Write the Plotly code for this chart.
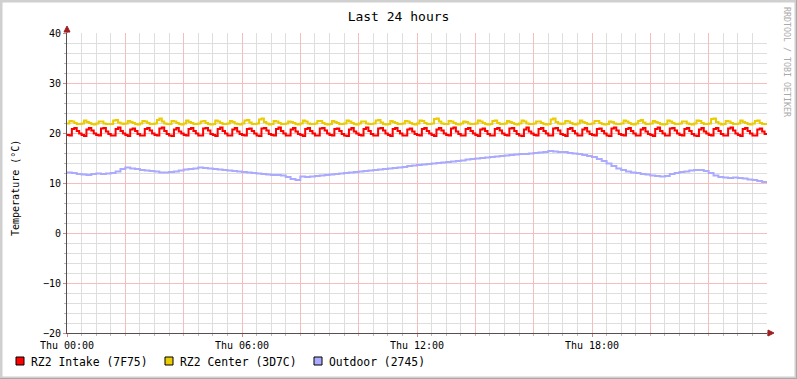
import plotly.graph_objects as go
import pandas as pd

# ---------------- data ----------------
start = pd.Timestamp("2011-06-16 00:00")  # a Thursday

# RZ2 Intake, 5-minute samples (00:00 .. 24:00)
rz2_intake = [
    19.6,19.5,20.8,21.0,20.4,19.9, 19.6,19.4,20.7,21.0,20.5,19.9,
    19.6,19.5,20.9,21.0,20.3,19.8, 19.5,19.5,20.8,21.1,20.4,19.9,
    19.6,19.4,20.7,20.9,20.4,19.8, 19.5,19.5,20.8,21.0,20.5,19.9,
    19.6,19.5,20.9,21.1,20.4,19.8, 19.5,19.4,20.7,21.0,20.3,19.9,
    19.6,19.5,20.8,21.0,20.4,19.9, 19.5,19.5,20.9,21.0,20.5,19.8,
    19.6,19.4,20.8,21.1,20.4,19.9, 19.5,19.5,20.7,21.0,20.3,19.8,
    19.6,19.5,20.8,20.9,20.4,19.9, 19.5,19.4,20.9,21.0,20.5,19.8,
    19.6,19.5,20.8,21.1,20.4,19.9, 19.5,19.5,20.7,21.0,20.3,19.8,
    19.6,19.4,20.8,21.0,20.4,19.9, 19.5,19.5,20.9,21.0,20.5,19.9,
    19.6,19.5,20.8,20.9,20.4,19.8, 19.5,19.4,20.7,21.0,20.3,19.9,
    19.6,19.5,20.8,21.1,20.4,19.8, 19.5,19.5,20.9,21.0,20.5,19.9,
    19.6,19.4,20.8,21.0,20.4,19.9, 19.5,19.5,20.7,20.9,20.3,19.8,
    19.6,19.5,20.8,21.0,20.4,19.9, 19.6,19.4,20.7,21.0,20.5,19.9,
    19.6,19.5,20.9,21.1,20.3,19.8, 19.5,19.5,20.8,21.0,20.4,19.9,
    19.6,19.4,20.7,20.9,20.4,19.8, 19.5,19.5,20.8,21.0,20.5,19.9,
    19.6,19.5,20.9,21.0,20.4,19.8, 19.5,19.4,20.7,21.1,20.3,19.9,
    19.6,19.5,20.8,21.0,20.4,19.9, 19.5,19.5,20.9,21.0,20.5,19.8,
    19.6,19.4,20.8,21.0,20.4,19.9, 19.5,19.5,20.7,21.0,20.3,19.8,
    19.6,19.5,20.8,20.9,20.4,19.9, 19.5,19.4,20.9,21.1,20.5,19.8,
    19.6,19.5,20.8,21.0,20.4,19.9, 19.5,19.5,20.7,21.0,20.3,19.8,
    19.6,19.4,20.8,21.1,20.4,19.9, 19.5,19.5,20.9,21.0,20.5,19.9,
    19.6,19.5,20.8,21.0,20.4,19.8, 19.5,19.4,20.7,21.0,20.3,19.9,
    19.6,19.5,20.8,21.0,20.4,19.8, 19.5,19.5,20.9,21.1,20.5,19.9,
    19.6,19.4,20.8,21.0,20.4,19.9, 19.5,19.5,20.7,20.9,20.3,19.8,
    19.6,
]

# RZ2 Center, 5-minute samples
rz2_center = [
    21.9,22.4,22.3,22.0,21.8,21.8, 21.9,22.5,22.2,22.0,21.8,21.7,
    21.9,22.3,22.3,21.9,21.8,21.8, 21.8,22.5,22.6,22.1,21.9,21.8,
    21.9,22.4,22.2,22.0,21.8,21.7, 21.9,22.4,22.3,22.0,21.8,21.8,
    21.9,22.6,22.9,22.3,21.9,21.8, 21.8,22.4,22.3,22.0,21.8,21.7,
    21.9,22.5,22.2,22.0,21.8,21.8, 21.9,22.3,22.4,22.0,21.8,21.7,
    21.8,22.5,22.3,22.0,21.8,21.8, 21.9,22.4,22.2,21.9,21.8,21.7,
    21.9,22.5,22.6,22.1,21.8,21.8, 21.9,22.7,22.9,22.2,21.9,21.7,
    21.8,22.4,22.3,22.0,21.8,21.8, 21.9,22.3,22.2,22.0,21.8,21.7,
    21.9,22.5,22.3,21.9,21.8,21.8, 21.9,22.4,22.4,22.0,21.8,21.7,
    21.8,22.4,22.2,22.0,21.8,21.8, 21.9,22.5,22.3,22.0,21.8,21.7,
    21.9,22.3,22.3,21.9,21.8,21.8, 21.9,22.5,22.6,22.1,21.8,21.7,
    21.8,22.4,22.2,22.0,21.8,21.8, 21.9,22.4,22.3,22.0,21.8,21.7,
    21.9,22.5,22.4,22.0,21.8,21.8, 21.9,22.8,22.9,22.3,21.9,21.8,
    21.8,22.4,22.3,22.0,21.8,21.7, 21.9,22.3,22.2,21.9,21.8,21.8,
    21.9,22.5,22.3,22.0,21.8,21.7, 21.8,22.4,22.5,22.0,21.8,21.8,
    21.9,22.4,22.2,22.0,21.8,21.7, 21.9,22.5,22.3,21.9,21.8,21.8,
    21.9,22.3,22.3,22.0,21.8,21.7, 21.8,22.7,22.9,22.2,21.9,21.8,
    21.9,22.4,22.3,22.0,21.8,21.7, 21.9,22.5,22.2,22.0,21.8,21.8,
    21.9,22.4,22.4,22.0,21.8,21.7, 21.8,22.3,22.2,21.9,21.8,21.8,
    21.9,22.5,22.3,22.0,21.8,21.7, 21.9,22.4,22.6,22.1,21.8,21.8,
    21.9,22.4,22.2,22.0,21.8,21.7, 21.8,22.5,22.3,22.0,21.8,21.8,
    21.9,22.3,22.3,21.9,21.8,21.7, 21.9,22.5,22.4,22.0,21.8,21.8,
    21.9,22.8,22.9,22.2,21.9,21.7, 21.8,22.4,22.3,22.0,21.8,21.8,
    21.9,22.5,22.2,22.0,21.8,21.7, 21.9,22.4,22.5,22.0,21.8,21.8,
    21.9,
]

# Outdoor, 10-minute samples
outdoor = [
    12.1,12.0,11.8,11.7,11.6,11.8, 11.9,11.8,11.9,12.0,12.3,12.8,
    13.1,12.9,12.8,12.6,12.5,12.4, 12.3,12.1,12.1,12.2,12.3,12.5,
    12.7,12.8,12.9,13.1,13.0,12.9, 12.8,12.7,12.6,12.5,12.4,12.3,
    12.2,12.1,12.0,11.9,11.8,11.7, 11.6,11.6,11.5,11.2,10.8,10.6,
    11.3,11.2,11.3,11.4,11.5,11.6, 11.7,11.8,11.9,12.0,12.1,12.2,
    12.3,12.4,12.5,12.6,12.7,12.8, 12.9,13.0,13.1,13.2,13.4,13.5,
    13.6,13.7,13.8,13.9,14.0,14.1, 14.2,14.3,14.4,14.5,14.7,14.8,
    14.9,15.0,15.1,15.2,15.3,15.4, 15.5,15.6,15.7,15.8,15.8,15.9,
    16.0,16.1,16.2,16.4,16.3,16.2, 16.2,16.0,15.9,15.8,15.6,15.4,
    15.2,14.8,14.4,13.9,13.4,12.9, 12.6,12.3,12.1,12.0,11.8,11.7,
    11.5,11.4,11.3,11.4,11.8,12.0, 12.2,12.3,12.5,12.6,12.6,12.4,
    12.0,11.5,11.2,11.1,11.0,11.1, 11.0,10.9,10.7,10.6,10.4,10.2,
    10.0,
]

series_names = ["RZ2 Intake (7F75)", "RZ2 Center (3D7C)", "Outdoor (2745)"]
series_colors = ["#FF0000", "#EACC00", "#AAAAFF"]

x_label_text = ["Thu 00:00", "", "", "Thu 06:00", "", "", "Thu 12:00", "", "",
                "Thu 18:00", "", "", ""]
y_ticks = [-20, -10, 0, 10, 20, 30, 40]

# ---------------- figure ----------------
t5 = pd.date_range(start, periods=len(rz2_intake), freq="5min")
t5c = pd.date_range(start, periods=len(rz2_center), freq="5min")
t10 = pd.date_range(start, periods=len(outdoor), freq="10min")
end = start + pd.Timedelta(hours=24)

fig = go.Figure()
for xs, ys, name, col in [(t10, outdoor, series_names[2], series_colors[2]),
                          (t5, rz2_intake, series_names[0], series_colors[0]),
                          (t5c, rz2_center, series_names[1], series_colors[1])]:
    fig.add_trace(go.Scatter(x=xs, y=ys, mode="lines", name=name,
                             line=dict(color=col, width=2, shape="hv"),
                             showlegend=False, hoverinfo="x+y+name"))

W, H = 797, 379
L, R, T, B = 67, 30, 33, 46
PW, PH = W - L - R, H - T - B


def px(xp):
    return (xp - L) / PW


def py(yp):
    return (H - B - yp) / PH


MONO = "DejaVu Sans Mono"
MAJOR = "#F4BEBE"
MINOR = "#DEDEDE"
AXIS = "#5A4E4E"

major_x = list(pd.date_range(start, periods=13, freq="2h"))
minor_x = list(pd.date_range(start, periods=49, freq="30min"))

fig.update_layout(
    width=W, height=H, autosize=False,
    margin=dict(l=L, r=R, t=T, b=B, pad=0),
    paper_bgcolor="white", plot_bgcolor="white",
    font=dict(family=MONO, size=10, color="black"),
    title=dict(text="Last 24 hours", x=0.5, xref="container", xanchor="center",
               y=1 - 16 / H, yref="container", yanchor="middle",
               font=dict(family=MONO, size=13, color="black")),
    xaxis=dict(range=[start, end], type="date",
               tickmode="array", tickvals=major_x, ticktext=x_label_text,
               showgrid=True, gridcolor=MAJOR, gridwidth=1,
               ticks="outside", ticklen=3, tickcolor="#E08080",
               showline=True, linecolor=AXIS, linewidth=1,
               zeroline=False, tickangle=0,
               tickfont=dict(family=MONO, size=10, color="black"),
               minor=dict(tickmode="array", tickvals=minor_x, showgrid=True,
                          gridcolor=MINOR, gridwidth=1, ticks="outside",
                          ticklen=2, tickcolor="#BBBBBB")),
    yaxis=dict(range=[-20, 40], tickmode="array", tickvals=y_ticks,
               showgrid=True, gridcolor=MAJOR, gridwidth=1,
               ticks="outside", ticklen=3, tickcolor="#E08080",
               showline=True, linecolor=AXIS, linewidth=1,
               zeroline=False,
               tickfont=dict(family=MONO, size=10, color="black"),
               minor=dict(dtick=2, tick0=0, showgrid=True, gridcolor=MINOR,
                          gridwidth=1, ticks="outside", ticklen=2,
                          tickcolor="#BBBBBB")),
)

shapes = []
# outer frame
shapes.append(dict(type="rect", xref="paper", yref="paper",
                   x0=px(1), x1=px(W - 1), y0=py(H - 1), y1=py(1),
                   line=dict(color="#D0D0D0", width=3), layer="above"))
shapes.append(dict(type="line", xref="paper", yref="paper",
                   x0=px(0), x1=px(W), y0=py(H - 0.5), y1=py(H - 0.5),
                   line=dict(color="#A8A8A8", width=1), layer="above"))
shapes.append(dict(type="line", xref="paper", yref="paper",
                   x0=px(W - 0.5), x1=px(W - 0.5), y0=py(0), y1=py(H),
                   line=dict(color="#A8A8A8", width=1), layer="above"))
# axis extensions and arrows
shapes.append(dict(type="line", xref="paper", yref="paper",
                   x0=0, x1=0, y0=1, y1=py(29),
                   line=dict(color=AXIS, width=1)))
shapes.append(dict(type="line", xref="paper", yref="paper",
                   x0=1, x1=px(770), y0=0, y1=0,
                   line=dict(color=AXIS, width=1)))
shapes.append(dict(type="path", xref="paper", yref="paper",
                   path=f"M {px(64)},{py(32)} L {px(70)},{py(32)} L {px(67)},{py(26)} Z",
                   fillcolor="#A02020", line=dict(color="#A02020", width=1)))
shapes.append(dict(type="path", xref="paper", yref="paper",
                   path=f"M {px(768)},{py(330)} L {px(768)},{py(336)} L {px(774)},{py(333)} Z",
                   fillcolor="#A02020", line=dict(color="#A02020", width=1)))

annotations = []
# legend (boxes + text)
legend_box_x = [16, 165, 314]
for bx, name, col in zip(legend_box_x, series_names, series_colors):
    shapes.append(dict(type="rect", xref="paper", yref="paper",
                       x0=px(bx), x1=px(bx + 8), y0=py(365), y1=py(357),
                       fillcolor=col, line=dict(color="black", width=1)))
    annotations.append(dict(text=name, xref="paper", yref="paper",
                            x=px(bx + 13), y=py(361.5), xanchor="left",
                            yanchor="middle", showarrow=False,
                            font=dict(family=MONO, size=11.4, color="black")))

# y-axis title
annotations.append(dict(text="Temperature (°C)", xref="paper", yref="paper",
                        x=px(16), y=py(188), textangle=-90, showarrow=False,
                        xanchor="center", yanchor="middle",
                        font=dict(family=MONO, size=10, color="black")))
# watermark
annotations.append(dict(text="RRDTOOL / TOBI OETIKER", xref="paper", yref="paper",
                        x=px(787), y=py(62), textangle=90, showarrow=False,
                        xanchor="center", yanchor="middle",
                        font=dict(family=MONO, size=8.3, color="#AAAAAA")))

fig.update_layout(shapes=shapes, annotations=annotations)

fig.write_html("out.html",
               config={"displayModeBar": False},
               post_script="document.body.style.margin='0';"
                           "document.body.style.overflow='hidden';")
